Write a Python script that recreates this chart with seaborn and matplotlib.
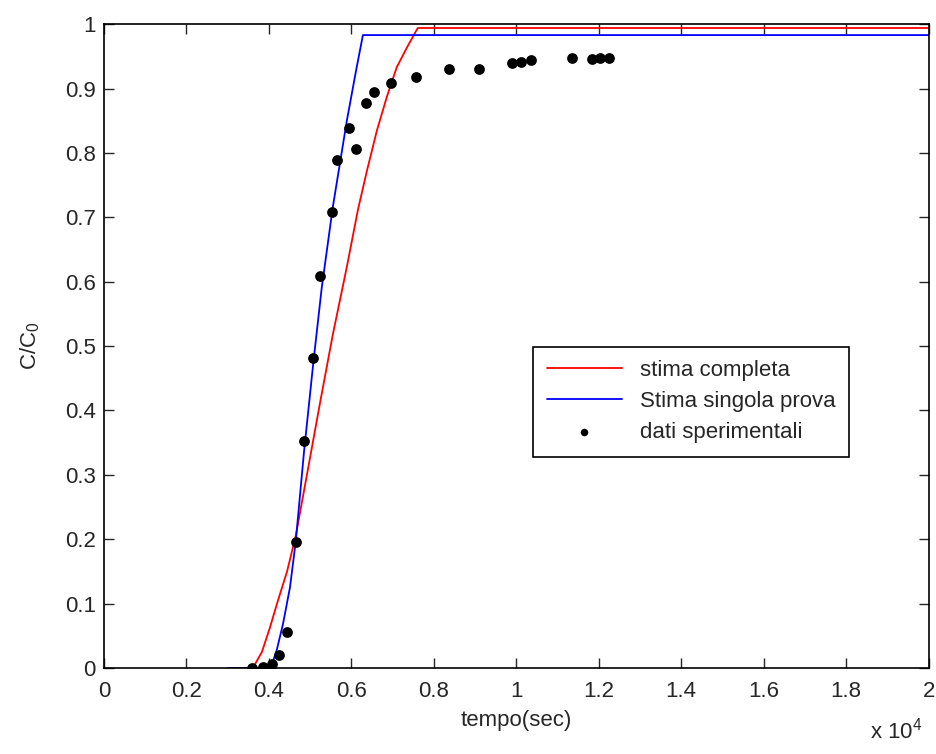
import numpy as np
import pandas as pd
import matplotlib
matplotlib.use("Agg")
import matplotlib.pyplot as plt
import seaborn as sns

# --- data (tempo in sec, C/C0) ---
t_completa = [3050, 3610, 3830, 4020, 4220, 4440, 4650, 4950, 5240,
              5550, 5890, 6160, 6380, 6620, 6860, 7100, 7350, 7610, 20000]
c_completa = [0.0, 0.0, 0.025, 0.062, 0.105, 0.150, 0.205, 0.310, 0.412,
              0.518, 0.623, 0.712, 0.773, 0.835, 0.887, 0.933, 0.964, 0.994, 0.994]

t_singola = [3000, 3900, 4070, 4190, 4340, 4510, 4650, 4850, 5070, 5280, 5550,
             5890, 6120, 6280, 20000]
c_singola = [0.0, 0.0, 0.005, 0.028, 0.068, 0.125, 0.196, 0.335, 0.470, 0.590,
             0.716, 0.850, 0.930, 0.983, 0.983]

t_dati = [3590, 3850, 4070, 4240, 4440, 4650, 4850, 5070, 5240, 5530, 5650,
          5940, 6110, 6350, 6550, 6960, 7560, 8360, 9090, 9890, 10110, 10350,
          11350, 11830, 12020, 12240]
c_dati = [0.0, 0.002, 0.006, 0.02, 0.056, 0.196, 0.352, 0.481, 0.609, 0.708, 0.789,
          0.839, 0.806, 0.877, 0.894, 0.908, 0.918, 0.930, 0.930, 0.939, 0.941,
          0.944, 0.947, 0.946, 0.947, 0.947]

SCALA = 1e4

sns.set_style("white")
plt.rcParams['font.family'] = ['Liberation Sans', 'DejaVu Sans']
plt.rcParams['mathtext.fontset'] = 'custom'
plt.rcParams['mathtext.rm'] = 'Liberation Sans'
plt.rcParams['mathtext.it'] = 'Liberation Sans'

fig = plt.figure(figsize=(9.37, 7.54), dpi=100)
ax = fig.add_axes([0.111, 0.114, 0.880, 0.854])

sns.lineplot(x=np.array(t_completa) / SCALA, y=c_completa, color='red', lw=1.3,
             label='stima completa', ax=ax, estimator=None, sort=False)
sns.lineplot(x=np.array(t_singola) / SCALA, y=c_singola, color='blue', lw=1.3,
             label='Stima singola prova', ax=ax, estimator=None, sort=False)
sns.scatterplot(x=np.array(t_dati) / SCALA, y=c_dati, color='black', s=60,
                edgecolor='black', linewidth=0, label='dati sperimentali', ax=ax, zorder=3)

ax.set_xlim(0, 2)
ax.set_ylim(0, 1)
ax.set_xticks(np.arange(0, 2.01, 0.2))
ax.set_yticks(np.arange(0, 1.01, 0.1))
ax.set_xticklabels(['0', '0.2', '0.4', '0.6', '0.8', '1', '1.2', '1.4', '1.6', '1.8', '2'])
ax.set_yticklabels(['0', '0.1', '0.2', '0.3', '0.4', '0.5', '0.6', '0.7', '0.8', '0.9', '1'])
ax.tick_params(direction='in', length=7, width=1, labelsize=16, top=True, right=True,
               bottom=True, left=True, labeltop=False, labelright=False)
ax.tick_params(axis='x', pad=9)
ax.tick_params(axis='y', pad=6)
for s in ax.spines.values():
    s.set_color('black')
    s.set_linewidth(1.2)

ax.set_xlabel('tempo(sec)', fontsize=16, labelpad=6)
ax.set_ylabel('C/C$_0$', fontsize=16, labelpad=16)
fig.text(0.928, 0.02, r'x 10$^4$', fontsize=16)

leg = ax.legend(loc='upper left', bbox_to_anchor=(0.507, 0.516), fontsize=16,
                frameon=True, fancybox=False, edgecolor='black', framealpha=1,
                borderpad=0.6, handlelength=3.4, labelspacing=0.45, markerscale=0.7)
leg.get_frame().set_linewidth(1.2)

fig.savefig('out.png', dpi=100, facecolor='white')
